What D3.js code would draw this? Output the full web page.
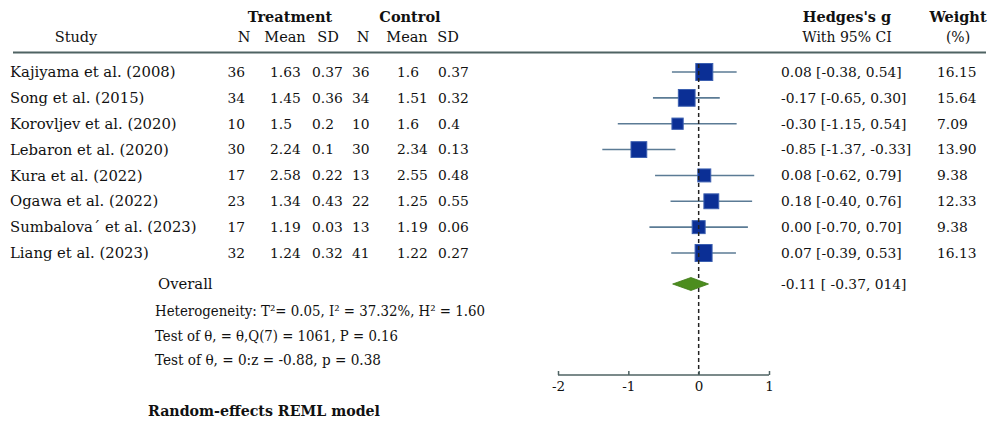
<!DOCTYPE html>
<html>
<head>
<meta charset="utf-8">
<script src="https://cdn.jsdelivr.net/npm/d3@7"></script>
<style>
  html, body { margin: 0; padding: 0; background: #fff; }
  svg { display: block; }
  text { font-family: "DejaVu Serif", serif; fill: #111; }
</style>
</head>
<body>
<svg id="chart" width="993" height="423"></svg>
<script>
// ---- Data ----
const studies = ["Kajiyama et al. (2008)", "Song et al. (2015)", "Korovljev et al. (2020)", "Lebaron et al. (2020)",
                 "Kura et al. (2022)", "Ogawa et al. (2022)", "Sumbalova´ et al. (2023)", "Liang et al. (2023)"];
const treatN    = [36, 34, 10, 30, 17, 23, 17, 32];
const treatMean = ["1.63", "1.45", "1.5", "2.24", "2.58", "1.34", "1.19", "1.24"];
const treatSD   = ["0.37", "0.36", "0.2", "0.1", "0.22", "0.43", "0.03", "0.32"];
const ctrlN     = [36, 34, 10, 30, 13, 22, 13, 41];
const ctrlMean  = ["1.6", "1.51", "1.6", "2.34", "2.55", "1.25", "1.19", "1.22"];
const ctrlSD    = ["0.37", "0.32", "0.4", "0.13", "0.48", "0.55", "0.06", "0.27"];
const hedgesG   = [0.08, -0.17, -0.30, -0.85, 0.08, 0.18, 0.00, 0.07];
const ciLow     = [-0.38, -0.65, -1.15, -1.37, -0.62, -0.40, -0.70, -0.39];
const ciHigh    = [0.54, 0.30, 0.54, -0.33, 0.79, 0.76, 0.70, 0.53];
const weights   = ["16.15", "15.64", "7.09", "13.90", "9.38", "12.33", "9.38", "16.13"];
const overall   = { g: -0.11, lo: -0.37, hi: 0.14, label: "-0.11 [ -0.37,  014]" };
const xTicks    = [-2, -1, 0, 1];
const statLines = ["Heterogeneity: T\u00B2= 0.05, I\u00B2 = 37.32%, H\u00B2 = 1.60",
                   "Test of \u03B8\u002C  = \u03B8\u002CQ(7) = 1061, P = 0.16",
                   "Test of \u03B8\u002C  = 0:z = -0.88, p = 0.38"];
const modelNote = "Random-effects REML model";

// ---- Layout ----
const svg = d3.select("#chart");
const x = d3.scaleLinear().domain([-2, 1]).range([558, 769]);
const y = d3.scalePoint().domain(studies).range([72, 253]);
const f2 = d3.format(".2f");
const fmt = v => f2(v).replace("\u2212", "-");
const size = d3.scaleSqrt().domain([0, 16.15]).range([0, 17]);

const lineCol = "#4f6363";
const ciCol = "#5b7b95";
const sqFill = "#0b2f95";
const sqStroke = "#3b5fb0";
const diaFill = "#4c8d1e";
const FS = 13.8;

function txt(g, s, xx, yy, anchor, fs, w) {
  return g.append("text").attr("x", xx).attr("y", yy).attr("text-anchor", anchor || "start")
    .attr("font-size", fs || FS).attr("font-weight", w || "normal").text(s);
}
const hdr = svg.append("g");
txt(hdr, "Treatment", 290, 22, "middle", 14.5, "bold");
txt(hdr, "Control", 410, 22, "middle", 14.5, "bold");
txt(hdr, "Study", 76, 42, "middle", 14.5);
[["N", 244], ["Mean", 285], ["SD", 328], ["N", 363], ["Mean", 407], ["SD", 448]]
  .forEach(([s, xx]) => txt(hdr, s, xx, 42, "middle", 14.5));
txt(hdr, "Hedges's g", 847, 22, "middle", 14.5, "bold");
txt(hdr, "With 95% CI", 847, 42, "middle", 14);
txt(hdr, "Weight", 958, 22, "middle", 14.5, "bold");
txt(hdr, "(%)", 958, 42, "middle", 14);

svg.append("line").attr("x1", 13).attr("x2", 986).attr("y1", 52.5).attr("y2", 52.5)
  .attr("stroke", lineCol).attr("stroke-width", 2);

// table rows
const rows = svg.append("g").selectAll("g").data(studies).join("g")
  .attr("transform", d => `translate(0,${y(d)})`);
rows.append("text").attr("x", 10).attr("dy", "0.35em").attr("font-size", 14.8).text(d => d);
rows.append("text").attr("x", 245).attr("dy", "0.35em").attr("text-anchor", "end").attr("font-size", FS).text((d, i) => treatN[i]);
rows.append("text").attr("x", 270).attr("dy", "0.35em").attr("font-size", FS).text((d, i) => treatMean[i]);
rows.append("text").attr("x", 312).attr("dy", "0.35em").attr("font-size", FS).text((d, i) => treatSD[i]);
rows.append("text").attr("x", 352).attr("dy", "0.35em").attr("font-size", FS).text((d, i) => ctrlN[i]);
rows.append("text").attr("x", 397).attr("dy", "0.35em").attr("font-size", FS).text((d, i) => ctrlMean[i]);
rows.append("text").attr("x", 438).attr("dy", "0.35em").attr("font-size", FS).text((d, i) => ctrlSD[i]);
rows.append("text").attr("x", 781).attr("dy", "0.35em").attr("font-size", FS)
  .text((d, i) => `${fmt(hedgesG[i])} [${fmt(ciLow[i])},  ${fmt(ciHigh[i])}]`);
rows.append("text").attr("x", 937).attr("dy", "0.35em").attr("font-size", FS).text((d, i) => weights[i]);

// zero line
svg.append("line").attr("x1", x(0)).attr("x2", x(0)).attr("y1", 64).attr("y2", 375)
  .attr("stroke", "#222").attr("stroke-width", 1.5).attr("stroke-dasharray", "4,3");

// CIs and squares
rows.append("line").attr("x1", (d, i) => x(ciLow[i])).attr("x2", (d, i) => x(ciHigh[i]))
  .attr("stroke", ciCol).attr("stroke-width", 1.6);
rows.append("rect")
  .attr("x", (d, i) => x(hedgesG[i]) - size(+weights[i]) / 2)
  .attr("y", (d, i) => -size(+weights[i]) / 2)
  .attr("width", (d, i) => size(+weights[i]))
  .attr("height", (d, i) => size(+weights[i]))
  .attr("fill", sqFill).attr("stroke", sqStroke).attr("stroke-width", 1);

// overall
const oy = 284;
txt(svg, "Overall", 158, oy, "start", 14.8).attr("dy", "0.35em");
svg.append("path")
  .attr("d", `M${x(overall.lo)},${oy} L${x(overall.g)},${oy - 6.5} L${x(overall.hi)},${oy} L${x(overall.g)},${oy + 6.5} Z`)
  .attr("fill", diaFill).attr("stroke", "#3f7a16").attr("stroke-width", 0.8);
txt(svg, overall.label, 781, oy, "start", FS).attr("dy", "0.35em");

// stats lines
const statY = [311, 336, 360];
const statW = [330, 243, 226];
statLines.forEach((s, i) => {
  txt(svg, s, 155, statY[i], "start", 14.5).attr("dy", "0.35em")
    .attr("textLength", statW[i]).attr("lengthAdjust", "spacingAndGlyphs");
});
txt(svg, modelNote, 148, 411, "start", 14.5, "bold").attr("dy", "0.35em")
  .attr("textLength", 232).attr("lengthAdjust", "spacingAndGlyphs");

// axis
const axis = d3.axisTop(x).tickValues(xTicks).tickSize(4).tickFormat(d => String(d));
const ax = svg.append("g").attr("transform", "translate(0,375)").call(axis);
ax.select(".domain").attr("stroke", lineCol).attr("stroke-width", 1.5).attr("d", `M${x(-2)},0H${x(1)}`);
ax.selectAll(".tick line").attr("stroke", lineCol).attr("stroke-width", 1.5);
ax.selectAll(".tick text").attr("y", 11).attr("dy", "0.35em").attr("font-size", 13.5)
  .attr("font-family", "DejaVu Serif").attr("fill", "#111");
</script>
</body>
</html>
